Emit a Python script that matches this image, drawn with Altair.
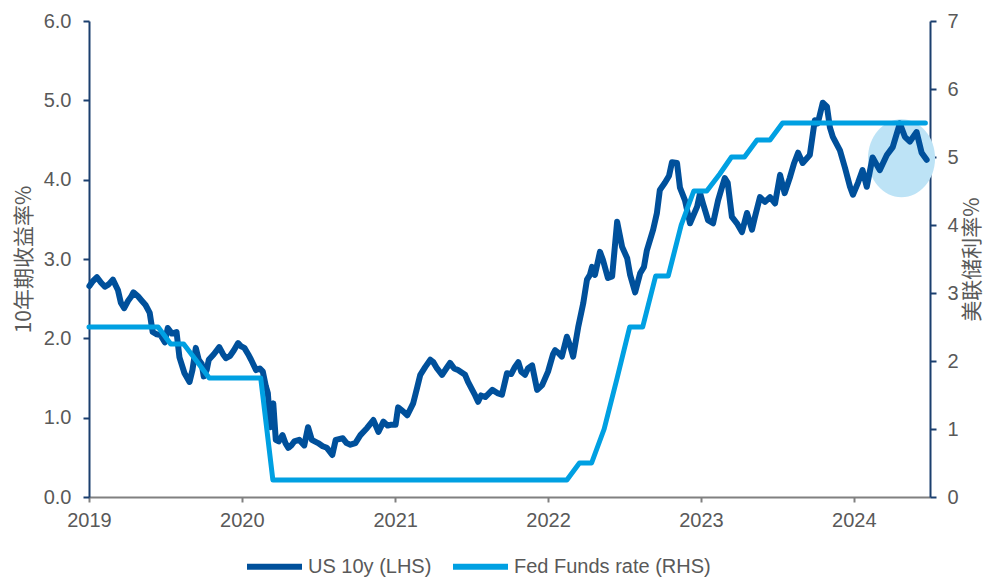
import altair as alt
import pandas as pd

# ---------------- data ----------------
us_dates = [
    "2019-01-02", "2019-01-10", "2019-01-20", "2019-01-30", "2019-02-08", "2019-02-17",
    "2019-02-27", "2019-03-11", "2019-03-18", "2019-03-26", "2019-04-04", "2019-04-11",
    "2019-04-17", "2019-04-28", "2019-05-06", "2019-05-16", "2019-05-26", "2019-06-02",
    "2019-06-12", "2019-06-21", "2019-07-01", "2019-07-08", "2019-07-18", "2019-07-29",
    "2019-08-05", "2019-08-17", "2019-08-29", "2019-09-05", "2019-09-13", "2019-09-20",
    "2019-09-27", "2019-10-02", "2019-10-09", "2019-10-14", "2019-10-26", "2019-11-08",
    "2019-11-17", "2019-11-24", "2019-12-04", "2019-12-13", "2019-12-23", "2019-12-30",
    "2020-01-07", "2020-01-16", "2020-01-23", "2020-02-04", "2020-02-13", "2020-02-20",
    "2020-02-27", "2020-03-03", "2020-03-09", "2020-03-16", "2020-03-22", "2020-03-29",
    "2020-04-07", "2020-04-14", "2020-04-21", "2020-04-28", "2020-05-05", "2020-05-17",
    "2020-05-29", "2020-06-07", "2020-06-16", "2020-07-01", "2020-07-12", "2020-07-22",
    "2020-08-04", "2020-08-12", "2020-08-29", "2020-09-07", "2020-09-16", "2020-09-28",
    "2020-10-10", "2020-10-26", "2020-11-10", "2020-11-22", "2020-12-04", "2020-12-14",
    "2020-12-21", "2021-01-02", "2021-01-08", "2021-01-20", "2021-01-30", "2021-02-13",
    "2021-02-23", "2021-03-02", "2021-03-14", "2021-03-26", "2021-04-02", "2021-04-11",
    "2021-04-23", "2021-05-03", "2021-05-12", "2021-05-22", "2021-05-31", "2021-06-17",
    "2021-06-24", "2021-07-04", "2021-07-11", "2021-07-18", "2021-07-25", "2021-08-04",
    "2021-08-21", "2021-09-02", "2021-09-13", "2021-09-25", "2021-10-05", "2021-10-14",
    "2021-10-22", "2021-10-29", "2021-11-07", "2021-11-14", "2021-11-24", "2021-12-06",
    "2021-12-18", "2022-01-01", "2022-01-13", "2022-01-18", "2022-01-25", "2022-02-03",
    "2022-02-15", "2022-02-23", "2022-03-02", "2022-03-14", "2022-03-26", "2022-04-04",
    "2022-04-11", "2022-04-16", "2022-04-23", "2022-05-05", "2022-05-12", "2022-05-24",
    "2022-06-03", "2022-06-15", "2022-06-27", "2022-07-09", "2022-07-16", "2022-07-28",
    "2022-08-09", "2022-08-18", "2022-08-25", "2022-09-09", "2022-09-18", "2022-09-25",
    "2022-10-07", "2022-10-17", "2022-10-24", "2022-11-05", "2022-11-12", "2022-11-24",
    "2022-12-06", "2022-12-23", "2022-12-30", "2023-01-06", "2023-01-18", "2023-01-30",
    "2023-02-11", "2023-02-20", "2023-02-27", "2023-03-06", "2023-03-16", "2023-03-28",
    "2023-04-09", "2023-04-21", "2023-05-03", "2023-05-10", "2023-05-22", "2023-06-03",
    "2023-06-15", "2023-06-27", "2023-07-09", "2023-07-20", "2023-08-01", "2023-08-11",
    "2023-08-21", "2023-09-01", "2023-09-18", "2023-09-30", "2023-10-07", "2023-10-19",
    "2023-10-29", "2023-11-05", "2023-11-12", "2023-11-29", "2023-12-11", "2023-12-23",
    "2023-12-30", "2024-01-11", "2024-01-22", "2024-02-01", "2024-02-15", "2024-03-03",
    "2024-03-20", "2024-04-03", "2024-04-20", "2024-05-02", "2024-05-14", "2024-05-30",
    "2024-06-11", "2024-06-23",
]
us_values = [
    2.66, 2.72, 2.77, 2.70, 2.65, 2.68,
    2.74, 2.61, 2.45, 2.38, 2.47, 2.52,
    2.58, 2.53, 2.48, 2.42, 2.32, 2.08,
    2.05, 2.04, 1.95, 2.13, 2.06, 2.08,
    1.76, 1.56, 1.45, 1.60, 1.88, 1.73,
    1.68, 1.52, 1.60, 1.73, 1.80, 1.89,
    1.80, 1.75, 1.78, 1.85, 1.94, 1.90,
    1.88, 1.80, 1.73, 1.60, 1.62, 1.58,
    1.40, 1.31, 0.88, 1.18, 0.72, 0.70,
    0.78, 0.68, 0.62, 0.65, 0.70, 0.72,
    0.65, 0.88, 0.72, 0.68, 0.64, 0.62,
    0.53, 0.72, 0.74, 0.68, 0.66, 0.68,
    0.78, 0.87, 0.97, 0.82, 0.95, 0.90,
    0.91, 0.91, 1.13, 1.08, 1.03, 1.18,
    1.39, 1.54, 1.64, 1.73, 1.70, 1.62,
    1.54, 1.62, 1.69, 1.62, 1.60, 1.54,
    1.45, 1.35, 1.28, 1.20, 1.28, 1.26,
    1.35, 1.31, 1.29, 1.56, 1.55, 1.64,
    1.70, 1.58, 1.54, 1.62, 1.66, 1.35,
    1.41, 1.58, 1.80, 1.85, 1.82, 1.77,
    2.02, 1.90, 1.77, 2.14, 2.44, 2.74,
    2.80, 2.90, 2.80, 3.09, 2.99, 2.76,
    2.78, 3.47, 3.15, 3.01, 2.80, 2.58,
    2.82, 2.90, 3.11, 3.37, 3.58, 3.87,
    3.96, 4.05, 4.22, 4.21, 3.90, 3.74,
    3.45, 3.66, 3.83, 3.70, 3.49, 3.45,
    3.74, 3.90, 4.02, 3.96, 3.53, 3.45,
    3.34, 3.58, 3.37, 3.53, 3.78, 3.72,
    3.78, 3.70, 4.06, 3.83, 4.02, 4.20,
    4.34, 4.21, 4.31, 4.75, 4.71, 4.97,
    4.92, 4.66, 4.54, 4.37, 4.15, 3.91,
    3.81, 3.96, 4.12, 3.91, 4.28, 4.12,
    4.31, 4.41, 4.71, 4.54, 4.48, 4.60,
    4.34, 4.25,
]

fed_dates = [
    "2019-01-01", "2019-06-15", "2019-07-15", "2019-08-15", "2019-09-15", "2019-10-15",
    "2020-02-15", "2020-03-15", "2022-02-15", "2022-03-17", "2022-04-15", "2022-05-15",
    "2022-06-15", "2022-07-15", "2022-08-15", "2022-09-15", "2022-10-15", "2022-11-15",
    "2022-12-15", "2023-01-15", "2023-02-15", "2023-03-15", "2023-04-15", "2023-05-15",
    "2023-06-15", "2023-07-15", "2024-06-20",
]
fed_values = [
    2.50, 2.50, 2.25, 2.25, 2.00, 1.75,
    1.75, 0.25, 0.25, 0.50, 0.50, 1.00,
    1.75, 2.50, 2.50, 3.25, 3.25, 4.00,
    4.50, 4.50, 4.75, 5.00, 5.00, 5.25,
    5.25, 5.50, 5.50,
]

series_names = ["US 10y (LHS)", "Fed Funds rate (RHS)"]
series_colors = ["#00509b", "#00a0e2"]

highlight_date = ["2024-04-24"]
highlight_value = [4.27]

left_ticks = [0, 1, 2, 3, 4, 5, 6]
right_ticks = [0, 1, 2, 3, 4, 5, 6, 7]
year_ticks = [2019, 2020, 2021, 2022, 2023, 2024]

# ---------------- frames ----------------
us_df = pd.DataFrame({"date": us_dates, "v": us_values, "series": series_names[0]})
fed_df = pd.DataFrame({"date": fed_dates, "v": fed_values, "series": series_names[1]})
hl_df = pd.DataFrame({"date": highlight_date, "v": highlight_value})

LABEL_COLOR = "#595959"
AXIS_BLUE = "#1b3f6e"
FONT = "Liberation Sans"
CJK = "Noto Sans CJK SC"

x_enc = alt.X(
    "date:T",
    scale=alt.Scale(
        type="utc",
        domain=[alt.DateTime(year=2019, month=1, date=1, utc=True),
                alt.DateTime(year=2024, month=7, date=1, utc=True)],
        nice=False,
    ),
    axis=alt.Axis(
        title=None,
        values=[alt.DateTime(year=y, month=1, date=1, utc=True) for y in year_ticks],
        format="%Y",
        domainColor="#808080",
        domainWidth=2,
        tickColor="#808080",
        tickWidth=2,
        tickSize=5,
        labelPadding=8,
        labelFontSize=20,
        labelColor=LABEL_COLOR,
        labelFont=FONT,
        labelFlush=False,
        labelOverlap=False,
        grid=False,
    ),
)

left_axis = alt.Axis(
    title="10年期收益率%",
    values=left_ticks,
    format=".1f",
    orient="left",
    domainColor=AXIS_BLUE,
    domainWidth=2,
    tickColor=AXIS_BLUE,
    tickWidth=2,
    tickSize=6,
    labelPadding=12,
    labelFontSize=20,
    labelColor=LABEL_COLOR,
    labelFont=FONT,
    labelFlush=False,
    titleFont=CJK,
    titleFontSize=21,
    titleFontWeight="normal",
    titleColor=LABEL_COLOR,
    titleAngle=270,
    titleAlign="center",
    titleBaseline="middle",
    titleX=-65,
    titleY=238,
    grid=False,
)

right_axis = alt.Axis(
    title="美联储利率%",
    values=right_ticks,
    format="d",
    orient="right",
    domainColor=AXIS_BLUE,
    domainWidth=2,
    tickColor=AXIS_BLUE,
    tickWidth=2,
    tickSize=6,
    labelPadding=11,
    labelFontSize=20,
    labelColor=LABEL_COLOR,
    labelFont=FONT,
    labelFlush=False,
    titleFont=CJK,
    titleFontSize=21,
    titleFontWeight="normal",
    titleColor=LABEL_COLOR,
    titleAngle=270,
    titleAlign="center",
    titleBaseline="middle",
    titleX=42,
    titleY=238,
    grid=False,
)

y_left = alt.Y("v:Q", scale=alt.Scale(domain=[0, 6], nice=False), axis=left_axis)
y_right = alt.Y("v:Q", scale=alt.Scale(domain=[0, 7], nice=False), axis=right_axis)

color_enc = alt.Color(
    "series:N",
    scale=alt.Scale(domain=series_names, range=series_colors),
    legend=alt.Legend(
        title=None,
        orient="none",
        legendX=155,
        legendY=515,
        direction="horizontal",
        symbolType="stroke",
        symbolStrokeWidth=6,
        symbolSize=3025,
        labelFontSize=20,
        labelColor=LABEL_COLOR,
        labelFont=FONT,
        labelOffset=3,
        labelLimit=400,
        columnPadding=9,
        padding=0,
    ),
)

ellipse = "M-0.86,0A0.86,1,0,1,1,0.86,0A0.86,1,0,1,1,-0.86,0Z"

highlight = alt.Chart(hl_df).mark_point(
    shape=ellipse, size=6084, filled=True, color="#bde3f6", opacity=1, strokeWidth=0
).encode(x=x_enc, y=y_left)

us_line = alt.Chart(us_df).mark_line(
    strokeWidth=6, strokeJoin="round", strokeCap="round"
).encode(x=x_enc, y=y_left, color=color_enc)

fed_line = alt.Chart(fed_df).mark_line(
    strokeWidth=5, strokeJoin="round", strokeCap="round"
).encode(x=x_enc, y=y_right, color=color_enc)

left_group = alt.layer(highlight, us_line)

chart = (
    alt.layer(left_group, fed_line)
    .resolve_scale(y="independent")
    .properties(
        width=841,
        height=476,
        autosize=alt.AutoSizeParams(type="none"),
        padding={"left": 81, "top": 13, "right": 53, "bottom": 82},
        background="white",
    )
    .configure_view(stroke=None)
    .configure_axis(grid=False)
)

chart.save("out.html", embed_options={"renderer": "svg", "actions": False})
